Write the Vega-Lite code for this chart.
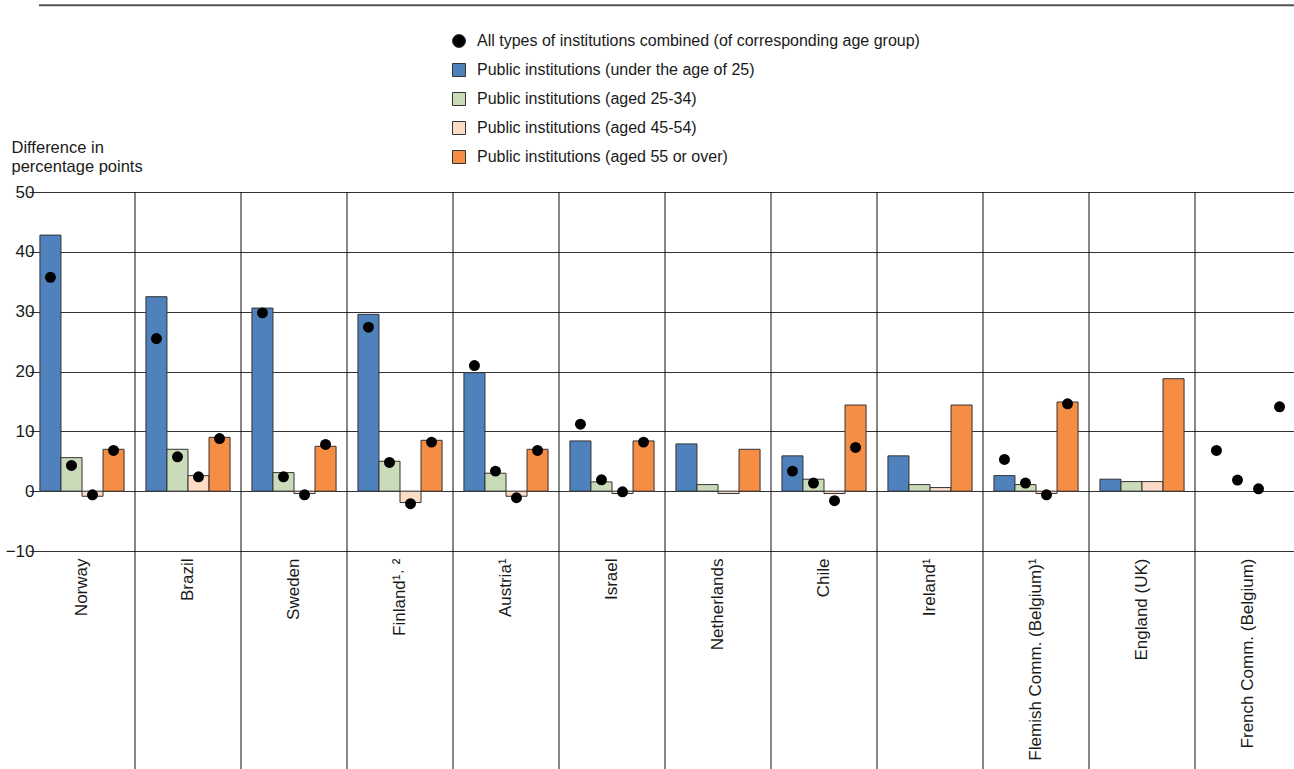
{
  "$schema": "https://vega.github.io/schema/vega-lite/v6.json",
  "width": 1255,
  "height": 359,
  "autosize": {"type": "none"},
  "padding": {"left": 39, "top": 192, "right": 0, "bottom": 218},
  "background": "white",
  "config": {
    "view": {"stroke": null},
    "font": "Liberation Sans",
    "axisY": {
      "grid": true, "gridColor": "#333333", "gridWidth": 1, "domain": false, "ticks": false,
      "labelFontSize": 17, "labelColor": "#1a1a1a", "labelPadding": 5,
      "titleAngle": 0, "titleAlign": "left", "titleBaseline": "alphabetic", "titleX": -28, "titleY": -40,
      "titleFontSize": 16.5, "titleFontWeight": "normal", "titleColor": "#1a1a1a", "titleLineHeight": 19
    },
    "axisX": {
      "grid": false, "domain": false, "ticks": false, "labelAngle": -90, "labelFontSize": 17,
      "labelColor": "#1a1a1a", "labelPadding": 7, "labelLimit": 300
    },
    "legend": {
      "orient": "none", "legendX": 412, "legendY": -159, "title": null, "labelFontSize": 16,
      "labelColor": "#1a1a1a", "symbolSize": 169, "rowPadding": 11, "labelOffset": 10,
      "symbolStrokeColor": "#333333", "symbolStrokeWidth": 1, "labelLimit": 600
    }
  },
  "datasets": {
    "separators": [
      {"country": "Brazil"}, {"country": "Sweden"}, {"country": "Finland¹˒ ²"}, {"country": "Austria¹"},
      {"country": "Israel"}, {"country": "Netherlands"}, {"country": "Chile"}, {"country": "Ireland¹"},
      {"country": "Flemish Comm. (Belgium)¹"}, {"country": "England (UK)"}, {"country": "French Comm. (Belgium)"}
    ],
    "top": [{"y": 81.2}],
    "bars": [
      {"country": "Norway", "group": "u25", "legend": "Public institutions (under the age of 25)", "value": 42.8},
      {"country": "Norway", "group": "25-34", "legend": "Public institutions (aged 25-34)", "value": 5.6},
      {"country": "Norway", "group": "45-54", "legend": "Public institutions (aged 45-54)", "value": -0.85},
      {"country": "Norway", "group": "55+", "legend": "Public institutions (aged 55 or over)", "value": 7.0},
      {"country": "Brazil", "group": "u25", "legend": "Public institutions (under the age of 25)", "value": 32.5},
      {"country": "Brazil", "group": "25-34", "legend": "Public institutions (aged 25-34)", "value": 7.0},
      {"country": "Brazil", "group": "45-54", "legend": "Public institutions (aged 45-54)", "value": 2.6},
      {"country": "Brazil", "group": "55+", "legend": "Public institutions (aged 55 or over)", "value": 9.0},
      {"country": "Sweden", "group": "u25", "legend": "Public institutions (under the age of 25)", "value": 30.6},
      {"country": "Sweden", "group": "25-34", "legend": "Public institutions (aged 25-34)", "value": 3.1},
      {"country": "Sweden", "group": "45-54", "legend": "Public institutions (aged 45-54)", "value": -0.4},
      {"country": "Sweden", "group": "55+", "legend": "Public institutions (aged 55 or over)", "value": 7.5},
      {"country": "Finland¹˒ ²", "group": "u25", "legend": "Public institutions (under the age of 25)", "value": 29.55},
      {"country": "Finland¹˒ ²", "group": "25-34", "legend": "Public institutions (aged 25-34)", "value": 5.0},
      {"country": "Finland¹˒ ²", "group": "45-54", "legend": "Public institutions (aged 45-54)", "value": -1.9},
      {"country": "Finland¹˒ ²", "group": "55+", "legend": "Public institutions (aged 55 or over)", "value": 8.5},
      {"country": "Austria¹", "group": "u25", "legend": "Public institutions (under the age of 25)", "value": 19.8},
      {"country": "Austria¹", "group": "25-34", "legend": "Public institutions (aged 25-34)", "value": 3.0},
      {"country": "Austria¹", "group": "45-54", "legend": "Public institutions (aged 45-54)", "value": -0.85},
      {"country": "Austria¹", "group": "55+", "legend": "Public institutions (aged 55 or over)", "value": 7.0},
      {"country": "Israel", "group": "u25", "legend": "Public institutions (under the age of 25)", "value": 8.4},
      {"country": "Israel", "group": "25-34", "legend": "Public institutions (aged 25-34)", "value": 1.55},
      {"country": "Israel", "group": "45-54", "legend": "Public institutions (aged 45-54)", "value": -0.4},
      {"country": "Israel", "group": "55+", "legend": "Public institutions (aged 55 or over)", "value": 8.4},
      {"country": "Netherlands", "group": "u25", "legend": "Public institutions (under the age of 25)", "value": 7.9},
      {"country": "Netherlands", "group": "25-34", "legend": "Public institutions (aged 25-34)", "value": 1.1},
      {"country": "Netherlands", "group": "45-54", "legend": "Public institutions (aged 45-54)", "value": -0.4},
      {"country": "Netherlands", "group": "55+", "legend": "Public institutions (aged 55 or over)", "value": 7.0},
      {"country": "Chile", "group": "u25", "legend": "Public institutions (under the age of 25)", "value": 5.9},
      {"country": "Chile", "group": "25-34", "legend": "Public institutions (aged 25-34)", "value": 2.0},
      {"country": "Chile", "group": "45-54", "legend": "Public institutions (aged 45-54)", "value": -0.4},
      {"country": "Chile", "group": "55+", "legend": "Public institutions (aged 55 or over)", "value": 14.4},
      {"country": "Ireland¹", "group": "u25", "legend": "Public institutions (under the age of 25)", "value": 5.9},
      {"country": "Ireland¹", "group": "25-34", "legend": "Public institutions (aged 25-34)", "value": 1.1},
      {"country": "Ireland¹", "group": "45-54", "legend": "Public institutions (aged 45-54)", "value": 0.6},
      {"country": "Ireland¹", "group": "55+", "legend": "Public institutions (aged 55 or over)", "value": 14.4},
      {"country": "Flemish Comm. (Belgium)¹", "group": "u25", "legend": "Public institutions (under the age of 25)", "value": 2.6},
      {"country": "Flemish Comm. (Belgium)¹", "group": "25-34", "legend": "Public institutions (aged 25-34)", "value": 1.1},
      {"country": "Flemish Comm. (Belgium)¹", "group": "45-54", "legend": "Public institutions (aged 45-54)", "value": -0.4},
      {"country": "Flemish Comm. (Belgium)¹", "group": "55+", "legend": "Public institutions (aged 55 or over)", "value": 14.9},
      {"country": "England (UK)", "group": "u25", "legend": "Public institutions (under the age of 25)", "value": 2.0},
      {"country": "England (UK)", "group": "25-34", "legend": "Public institutions (aged 25-34)", "value": 1.6},
      {"country": "England (UK)", "group": "45-54", "legend": "Public institutions (aged 45-54)", "value": 1.6},
      {"country": "England (UK)", "group": "55+", "legend": "Public institutions (aged 55 or over)", "value": 18.8}
    ],
    "dots": [
      {"country": "Norway", "group": "u25", "legend": "All types of institutions combined (of corresponding age group)", "value": 35.75},
      {"country": "Norway", "group": "25-34", "legend": "All types of institutions combined (of corresponding age group)", "value": 4.3},
      {"country": "Norway", "group": "45-54", "legend": "All types of institutions combined (of corresponding age group)", "value": -0.6},
      {"country": "Norway", "group": "55+", "legend": "All types of institutions combined (of corresponding age group)", "value": 6.8},
      {"country": "Brazil", "group": "u25", "legend": "All types of institutions combined (of corresponding age group)", "value": 25.5},
      {"country": "Brazil", "group": "25-34", "legend": "All types of institutions combined (of corresponding age group)", "value": 5.75},
      {"country": "Brazil", "group": "45-54", "legend": "All types of institutions combined (of corresponding age group)", "value": 2.4},
      {"country": "Brazil", "group": "55+", "legend": "All types of institutions combined (of corresponding age group)", "value": 8.8},
      {"country": "Sweden", "group": "u25", "legend": "All types of institutions combined (of corresponding age group)", "value": 29.8},
      {"country": "Sweden", "group": "25-34", "legend": "All types of institutions combined (of corresponding age group)", "value": 2.4},
      {"country": "Sweden", "group": "45-54", "legend": "All types of institutions combined (of corresponding age group)", "value": -0.6},
      {"country": "Sweden", "group": "55+", "legend": "All types of institutions combined (of corresponding age group)", "value": 7.8},
      {"country": "Finland¹˒ ²", "group": "u25", "legend": "All types of institutions combined (of corresponding age group)", "value": 27.4},
      {"country": "Finland¹˒ ²", "group": "25-34", "legend": "All types of institutions combined (of corresponding age group)", "value": 4.8},
      {"country": "Finland¹˒ ²", "group": "45-54", "legend": "All types of institutions combined (of corresponding age group)", "value": -2.1},
      {"country": "Finland¹˒ ²", "group": "55+", "legend": "All types of institutions combined (of corresponding age group)", "value": 8.2},
      {"country": "Austria¹", "group": "u25", "legend": "All types of institutions combined (of corresponding age group)", "value": 21.0},
      {"country": "Austria¹", "group": "25-34", "legend": "All types of institutions combined (of corresponding age group)", "value": 3.35},
      {"country": "Austria¹", "group": "45-54", "legend": "All types of institutions combined (of corresponding age group)", "value": -1.1},
      {"country": "Austria¹", "group": "55+", "legend": "All types of institutions combined (of corresponding age group)", "value": 6.8},
      {"country": "Israel", "group": "u25", "legend": "All types of institutions combined (of corresponding age group)", "value": 11.2},
      {"country": "Israel", "group": "25-34", "legend": "All types of institutions combined (of corresponding age group)", "value": 1.9},
      {"country": "Israel", "group": "45-54", "legend": "All types of institutions combined (of corresponding age group)", "value": -0.1},
      {"country": "Israel", "group": "55+", "legend": "All types of institutions combined (of corresponding age group)", "value": 8.2},
      {"country": "Chile", "group": "u25", "legend": "All types of institutions combined (of corresponding age group)", "value": 3.35},
      {"country": "Chile", "group": "25-34", "legend": "All types of institutions combined (of corresponding age group)", "value": 1.35},
      {"country": "Chile", "group": "45-54", "legend": "All types of institutions combined (of corresponding age group)", "value": -1.6},
      {"country": "Chile", "group": "55+", "legend": "All types of institutions combined (of corresponding age group)", "value": 7.3},
      {"country": "Flemish Comm. (Belgium)¹", "group": "u25", "legend": "All types of institutions combined (of corresponding age group)", "value": 5.3},
      {"country": "Flemish Comm. (Belgium)¹", "group": "25-34", "legend": "All types of institutions combined (of corresponding age group)", "value": 1.35},
      {"country": "Flemish Comm. (Belgium)¹", "group": "45-54", "legend": "All types of institutions combined (of corresponding age group)", "value": -0.6},
      {"country": "Flemish Comm. (Belgium)¹", "group": "55+", "legend": "All types of institutions combined (of corresponding age group)", "value": 14.6},
      {"country": "French Comm. (Belgium)", "group": "u25", "legend": "All types of institutions combined (of corresponding age group)", "value": 6.8},
      {"country": "French Comm. (Belgium)", "group": "25-34", "legend": "All types of institutions combined (of corresponding age group)", "value": 1.85},
      {"country": "French Comm. (Belgium)", "group": "45-54", "legend": "All types of institutions combined (of corresponding age group)", "value": 0.4},
      {"country": "French Comm. (Belgium)", "group": "55+", "legend": "All types of institutions combined (of corresponding age group)", "value": 14.1}
    ]
  },
  "layer": [
    {
      "data": {"name": "separators"},
      "mark": {"type": "rule", "color": "#111111", "strokeWidth": 1},
      "encoding": {
        "x": {"field": "country", "type": "nominal", "bandPosition": 0,
          "scale": {"domain": ["Norway", "Brazil", "Sweden", "Finland¹˒ ²", "Austria¹", "Israel", "Netherlands", "Chile", "Ireland¹", "Flemish Comm. (Belgium)¹", "England (UK)", "French Comm. (Belgium)"], "range": [-10, 1262], "paddingInner": 0, "paddingOuter": 0},
          "axis": {"title": null}},
        "y": {"datum": 50, "type": "quantitative", "scale": {"domain": [-10, 50], "nice": false, "zero": false}, "axis": {"title": ["Difference in", "percentage points"], "values": [-10, 0, 10, 20, 30, 40, 50]}},
        "y2": {"datum": -47}
      }
    },
    {
      "data": {"name": "top"},
      "mark": {"type": "rule", "color": "#555555", "strokeWidth": 2},
      "encoding": {
        "y": {"field": "y", "type": "quantitative", "scale": {"domain": [-10, 50], "nice": false, "zero": false}, "axis": {"title": ["Difference in", "percentage points"], "values": [-10, 0, 10, 20, 30, 40, 50]}}
      }
    },
    {
      "data": {"name": "bars"},
      "mark": {"type": "bar", "stroke": "#333333", "strokeWidth": 1},
      "encoding": {
        "x": {"field": "country", "type": "nominal",
          "scale": {"domain": ["Norway", "Brazil", "Sweden", "Finland¹˒ ²", "Austria¹", "Israel", "Netherlands", "Chile", "Ireland¹", "Flemish Comm. (Belgium)¹", "England (UK)", "French Comm. (Belgium)"], "range": [-10, 1262], "paddingInner": 0, "paddingOuter": 0},
          "axis": {"title": null}},
        "xOffset": {"field": "group", "type": "nominal", "scale": {"domain": ["u25", "25-34", "45-54", "55+"], "paddingInner": 0, "paddingOuter": 0.52}},
        "y": {"field": "value", "type": "quantitative", "scale": {"domain": [-10, 50], "nice": false, "zero": false}, "axis": {"title": ["Difference in", "percentage points"], "values": [-10, 0, 10, 20, 30, 40, 50]}},
        "y2": {"datum": 0},
        "color": {"field": "legend", "type": "nominal",
          "scale": {"domain": ["All types of institutions combined (of corresponding age group)", "Public institutions (under the age of 25)", "Public institutions (aged 25-34)", "Public institutions (aged 45-54)", "Public institutions (aged 55 or over)"],
                    "range": ["#000000", "#4F81BD", "#CADBB9", "#FDDCC7", "#F68D45"]}}
      }
    },
    {
      "data": {"name": "dots"},
      "mark": {"type": "point", "filled": true, "opacity": 1, "size": 120},
      "encoding": {
        "x": {"field": "country", "type": "nominal",
          "scale": {"domain": ["Norway", "Brazil", "Sweden", "Finland¹˒ ²", "Austria¹", "Israel", "Netherlands", "Chile", "Ireland¹", "Flemish Comm. (Belgium)¹", "England (UK)", "French Comm. (Belgium)"], "range": [-10, 1262], "paddingInner": 0, "paddingOuter": 0},
          "axis": {"title": null}},
        "xOffset": {"field": "group", "type": "nominal", "scale": {"domain": ["u25", "25-34", "45-54", "55+"], "paddingInner": 0, "paddingOuter": 0.52}},
        "y": {"field": "value", "type": "quantitative", "scale": {"domain": [-10, 50], "nice": false, "zero": false}, "axis": {"title": ["Difference in", "percentage points"], "values": [-10, 0, 10, 20, 30, 40, 50]}},
        "color": {"field": "legend", "type": "nominal",
          "scale": {"domain": ["All types of institutions combined (of corresponding age group)", "Public institutions (under the age of 25)", "Public institutions (aged 25-34)", "Public institutions (aged 45-54)", "Public institutions (aged 55 or over)"],
                    "range": ["#000000", "#4F81BD", "#CADBB9", "#FDDCC7", "#F68D45"]}},
        "shape": {"field": "legend", "type": "nominal",
          "scale": {"domain": ["All types of institutions combined (of corresponding age group)", "Public institutions (under the age of 25)", "Public institutions (aged 25-34)", "Public institutions (aged 45-54)", "Public institutions (aged 55 or over)"],
                    "range": ["circle", "square", "square", "square", "square"]}}
      }
    }
  ]
}
